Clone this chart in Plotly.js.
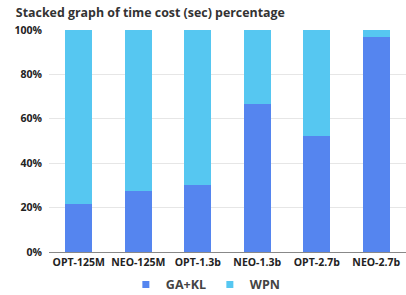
<!DOCTYPE html>
<html><head><meta charset="utf-8">
<script src="https://cdn.plot.ly/plotly-3.0.1.min.js"></script>
<style>html,body{margin:0;padding:0;background:#fff}#c{width:406px;height:295px}</style>
</head><body><div id="c"></div>
<script>
const categories = ["OPT-125M","NEO-125M","OPT-1.3b","NEO-1.3b","OPT-2.7b","NEO-2.7b"];
const gaKl = [21.5, 27.5, 30.2, 66.7, 52.3, 96.8];
const wpn = [78.5, 72.5, 69.8, 33.3, 47.7, 3.2];
const seriesNames = ["GA+KL","WPN"];
const seriesColors = ["#5585ef","#56c7f1"];
const yTicks = [0,20,40,60,80,100];
const yTickText = ["0%","20%","40%","60%","80%","100%"];

const data = [
  {type:"bar", name:seriesNames[0], x:categories, y:gaKl, marker:{color:seriesColors[0]}, showlegend:false, hoverinfo:"none"},
  {type:"bar", name:seriesNames[1], x:categories, y:wpn, marker:{color:seriesColors[1]}, showlegend:false, hoverinfo:"none"},
  {type:"scatter", mode:"markers", name:seriesNames[0], x:[null], y:[null], marker:{symbol:"square", size:7, color:seriesColors[0]}},
  {type:"scatter", mode:"markers", name:seriesNames[1], x:[null], y:[null], marker:{symbol:"square", size:7, color:seriesColors[1]}}
];
const layout = {
  width:406, height:295,
  barmode:"stack", bargap:0.54,
  margin:{l:49, r:0, t:30, b:43},
  paper_bgcolor:"#fff", plot_bgcolor:"#fff",
  font:{family:"Open Sans, Noto Sans, sans-serif", color:"#333"},
  title:{text:"<b>Stacked graph of time cost (sec) percentage</b>", xref:"container", x:0.039, xanchor:"left", yref:"container", y:0.958, yanchor:"middle", font:{size:12.4, color:"#333"}},
  xaxis:{showline:true, linecolor:"#888", linewidth:1, ticks:"", tickfont:{size:10.5, color:"#222", weight:"bold"}, fixedrange:true},
  yaxis:{range:[0,100], tickvals:yTicks, ticktext:yTickText, gridcolor:"#e6e6e6", zeroline:false, tickfont:{size:10.5, color:"#222", weight:"bold"}, ticklabelstandoff:6, fixedrange:true},
  legend:{orientation:"h", xref:"container", x:0.31, xanchor:"left", yref:"container", y:0.034, yanchor:"middle", font:{size:12.5, color:"#444", weight:"bold"}, itemwidth:30, entrywidth:39, traceorder:"normal"},
  showlegend:true
};
Plotly.newPlot("c", data, layout, {displayModeBar:false, staticPlot:true});
</script></body></html>
